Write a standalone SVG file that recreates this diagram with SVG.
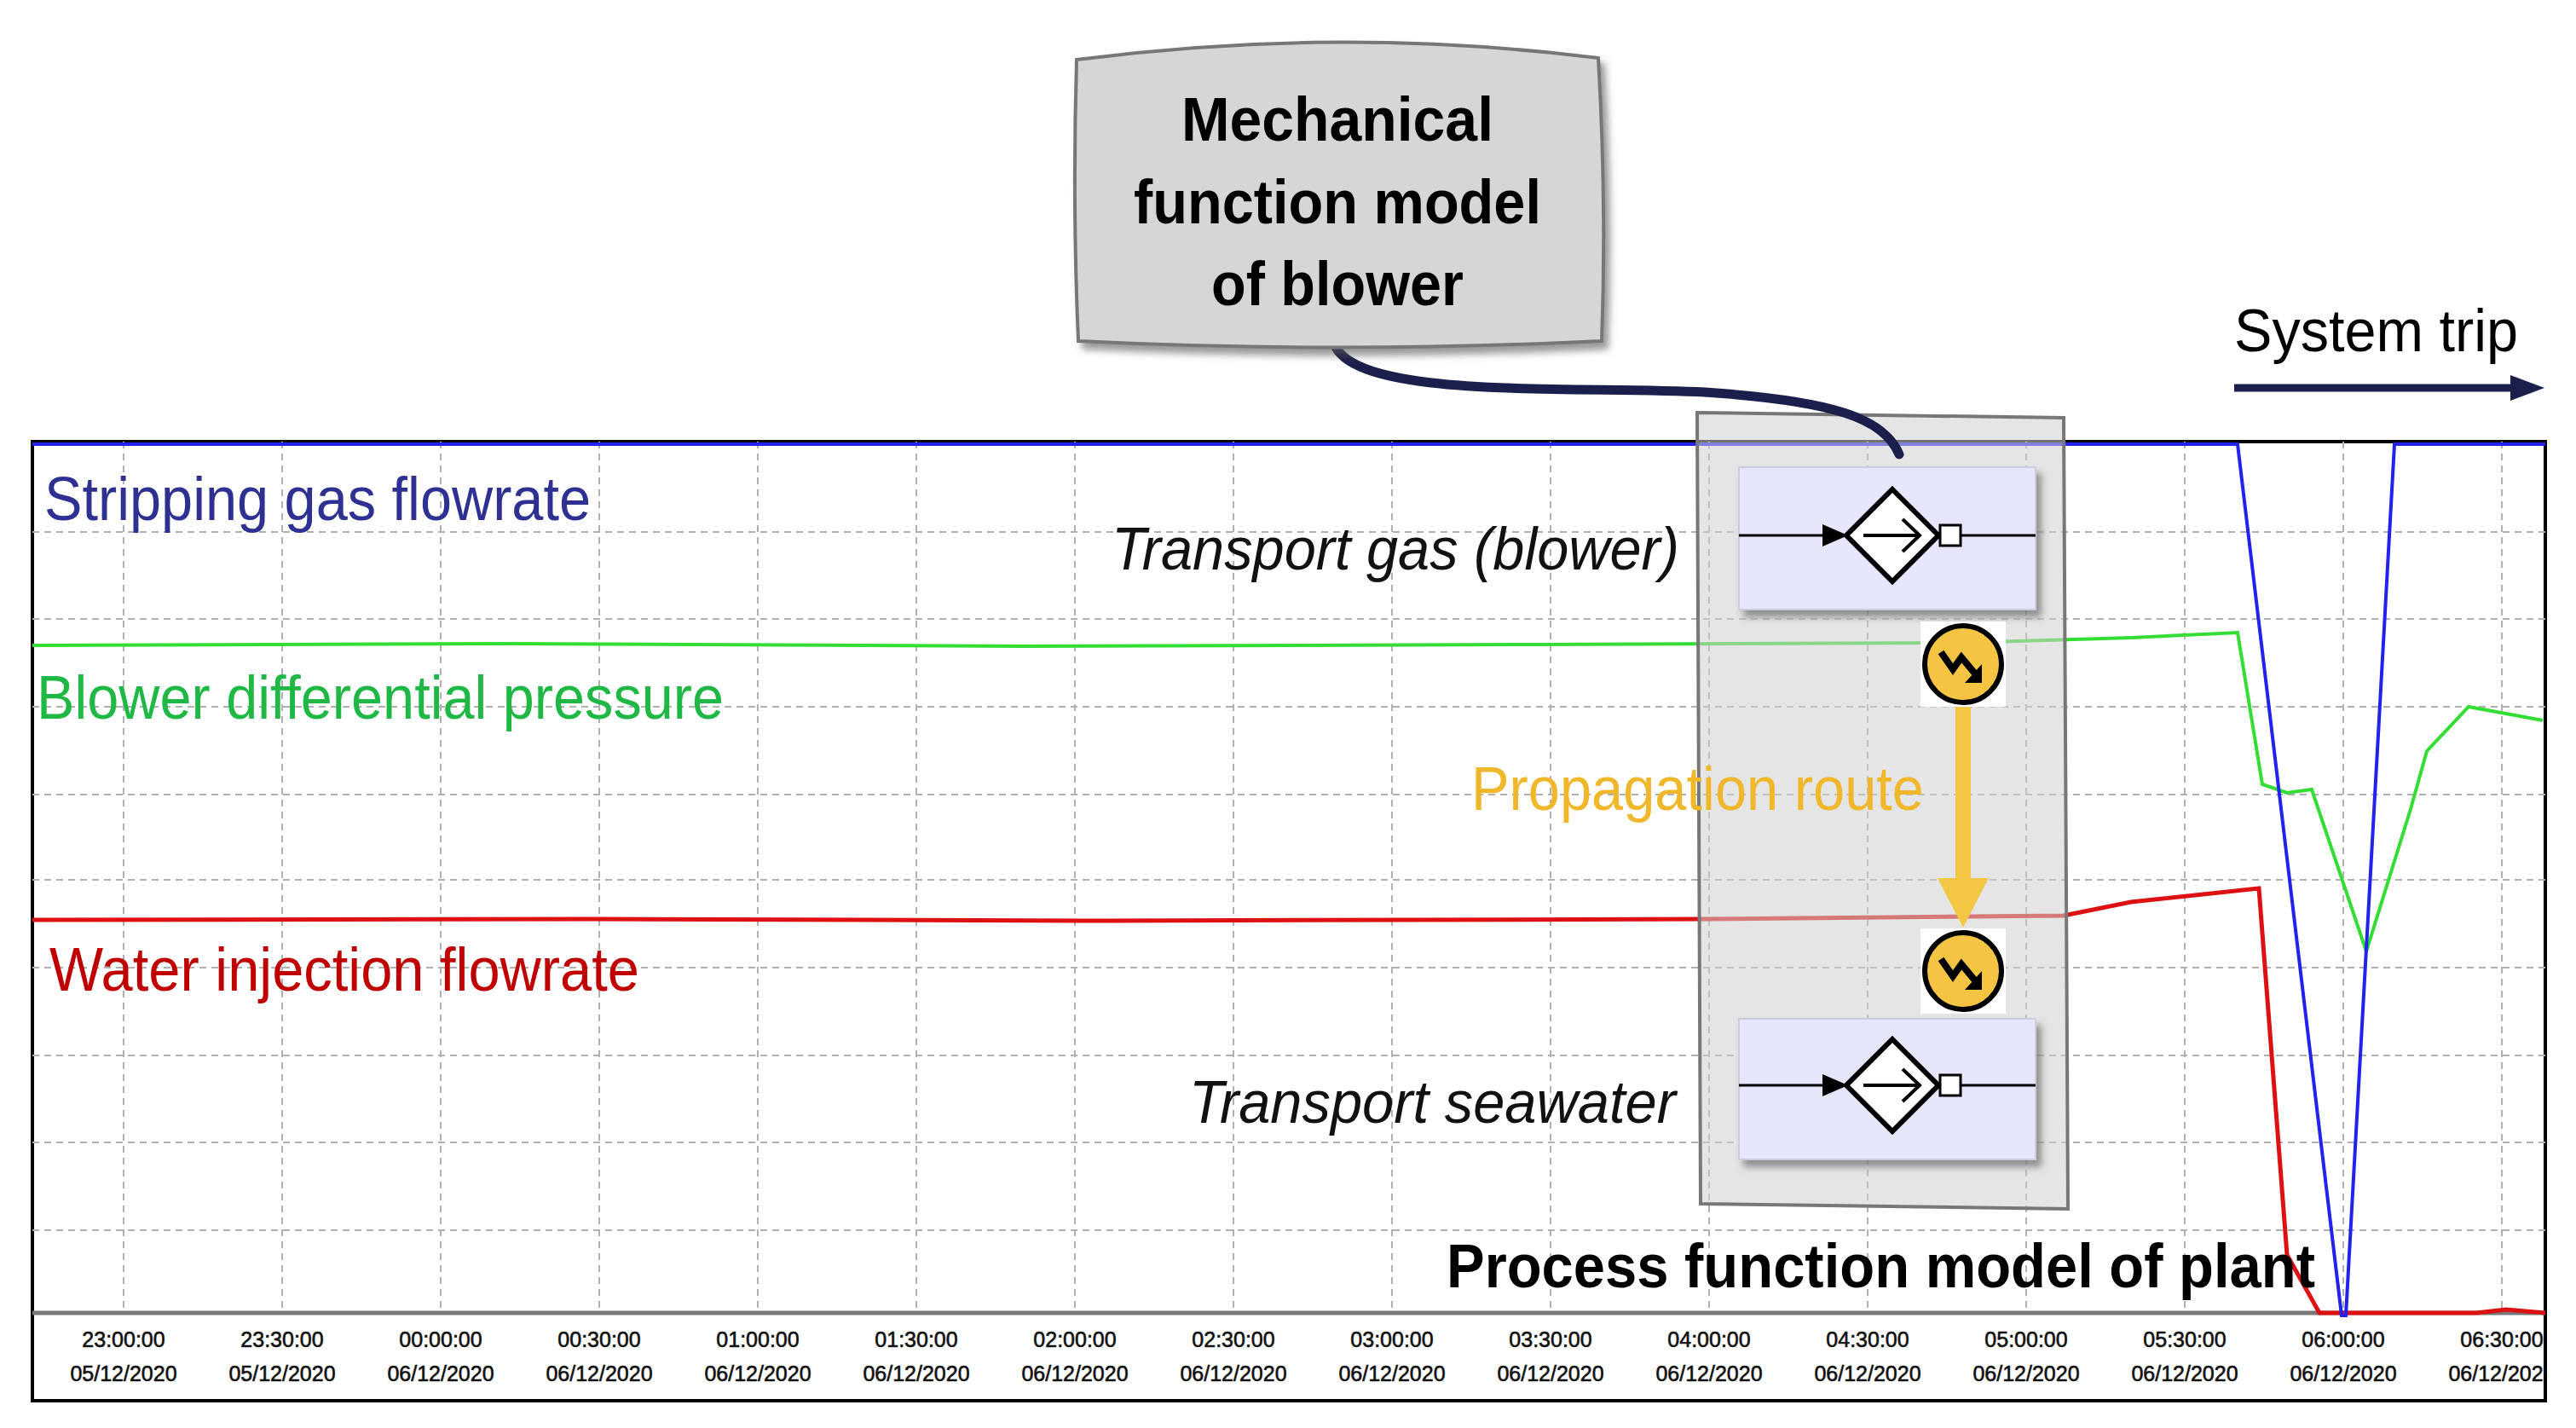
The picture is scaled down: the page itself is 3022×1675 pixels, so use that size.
<svg xmlns="http://www.w3.org/2000/svg" width="3022" height="1675" viewBox="0 0 3022 1675">
<style>
.grid{stroke:#b0b0b0;stroke-width:2;stroke-dasharray:8 6;fill:none}
.tick{font-family:"Liberation Sans",sans-serif;font-size:25px;fill:#111;text-anchor:middle;stroke:#111;stroke-width:0.6}
.lbl{font-family:"Liberation Sans",sans-serif;font-size:72px}
.it{font-family:"Liberation Sans",sans-serif;font-size:70px;font-style:italic;fill:#111}
.fbox{fill:#e6e6fa;stroke:#ccd;stroke-width:2;filter:url(#sh)}
.icon{fill:#f5c443;stroke:#000;stroke-width:6}
</style>
<defs>
<filter id="sh" x="-10%" y="-10%" width="130%" height="130%"><feDropShadow dx="6" dy="8" stdDeviation="4" flood-color="#555" flood-opacity="0.6"/></filter>
<clipPath id="plot"><rect x="38" y="518" width="2948" height="1125"/></clipPath>
<g id="fsym">
<line x1="0" y1="0" x2="348" y2="0" stroke="#000" stroke-width="3"/>
<path d="M98,-13 L128,0 L98,13 z" fill="#000"/>
<path d="M180,-54 L234,0 L180,54 L126,0 z" fill="#fff" stroke="#000" stroke-width="6"/>
<line x1="146" y1="0" x2="212" y2="0" stroke="#000" stroke-width="4"/>
<path d="M192,-19 L212,0 L192,19" fill="none" stroke="#000" stroke-width="4"/>
<rect x="236" y="-12" width="24" height="24" fill="#fff" stroke="#000" stroke-width="3"/>
</g>
<g id="ico">
<rect x="-50" y="-50" width="100" height="100" fill="#fff"/>
<circle r="45" class="icon"/>
<path d="M-26,-14 L-12,6 L-2,-8 L18,16" fill="none" stroke="#000" stroke-width="8"/>
<path d="M22,0 L22,22 L2,22 z" fill="#000"/>
</g>
</defs>
<rect width="3022" height="1675" fill="#fff"/>
<g id="chart">
<rect x="38" y="518" width="2948" height="1125" fill="#fff" stroke="#000" stroke-width="4"/>
<g class="grid">
<path d="M38,624H2986M38,726H2986M38,829H2986M38,932H2986M38,1032H2986M38,1135H2986M38,1238H2986M38,1340H2986M38,1443H2986"/>
<path d="M145,518V1540M331,518V1540M517,518V1540M703,518V1540M889,518V1540M1075,518V1540M1261,518V1540M1447,518V1540M1633,518V1540M1819,518V1540M2005,518V1540M2191,518V1540M2377,518V1540M2563,518V1540M2749,518V1540M2935,518V1540"/>
</g>
<line x1="38" y1="1540" x2="2986" y2="1540" stroke="#777" stroke-width="5"/>
<g clip-path="url(#plot)">
<g class="tick">
<text x="145" y="1580">23:00:00</text><text x="145" y="1620">05/12/2020</text>
<text x="331" y="1580">23:30:00</text><text x="331" y="1620">05/12/2020</text>
<text x="517" y="1580">00:00:00</text><text x="517" y="1620">06/12/2020</text>
<text x="703" y="1580">00:30:00</text><text x="703" y="1620">06/12/2020</text>
<text x="889" y="1580">01:00:00</text><text x="889" y="1620">06/12/2020</text>
<text x="1075" y="1580">01:30:00</text><text x="1075" y="1620">06/12/2020</text>
<text x="1261" y="1580">02:00:00</text><text x="1261" y="1620">06/12/2020</text>
<text x="1447" y="1580">02:30:00</text><text x="1447" y="1620">06/12/2020</text>
<text x="1633" y="1580">03:00:00</text><text x="1633" y="1620">06/12/2020</text>
<text x="1819" y="1580">03:30:00</text><text x="1819" y="1620">06/12/2020</text>
<text x="2005" y="1580">04:00:00</text><text x="2005" y="1620">06/12/2020</text>
<text x="2191" y="1580">04:30:00</text><text x="2191" y="1620">06/12/2020</text>
<text x="2377" y="1580">05:00:00</text><text x="2377" y="1620">06/12/2020</text>
<text x="2563" y="1580">05:30:00</text><text x="2563" y="1620">06/12/2020</text>
<text x="2749" y="1580">06:00:00</text><text x="2749" y="1620">06/12/2020</text>
<text x="2935" y="1580">06:30:00</text><text x="2935" y="1620">06/12/2020</text>
</g>
<path d="M38,757 L600,755 L1200,758 L1800,756 L2300,754 L2500,748 L2625,742 L2654,920 L2683,930 L2712,926 L2776,1116 L2828,949 L2847,881 L2896,829 L2983,845" fill="none" stroke="#33dd33" stroke-width="4"/>
<path d="M38,1079 L700,1078 L1300,1080 L2000,1078 L2421,1074 L2500,1058 L2650,1042 L2683,1472 L2721,1540 L2905,1540 L2940,1536 L2986,1540" fill="none" stroke="#dd1111" stroke-width="5"/>
<path d="M38,521 L2625,521 L2747,1543 L2752,1543 L2809,521 L2986,521" fill="none" stroke="#2222ee" stroke-width="4"/>
</g>
</g>
<g id="labels">
<text class="lbl" x="52" y="610" fill="#2e3192" textLength="641" lengthAdjust="spacingAndGlyphs">Stripping gas flowrate</text>
<text class="lbl" x="43" y="843" fill="#1fb845" textLength="806" lengthAdjust="spacingAndGlyphs">Blower differential pressure</text>
<text class="lbl" x="58" y="1162" fill="#c00000" textLength="692" lengthAdjust="spacingAndGlyphs">Water injection flowrate</text>
</g>
<g id="process-model">
<path d="M1991,484 L2421,490 L2426,1418 L1995,1412 Z" fill="#cfcfcf" fill-opacity="0.55" stroke="#777" stroke-width="4"/>
</g>
<g id="transport-gas">
<rect class="fbox" x="2040" y="548" width="348" height="167"/>
<use href="#fsym" x="2040" y="628"/>
<text class="it" x="1304" y="668" textLength="666" lengthAdjust="spacingAndGlyphs">Transport gas (blower)</text>
</g>
<g id="transport-seawater">
<rect class="fbox" x="2040" y="1195" width="348" height="165"/>
<use href="#fsym" x="2040" y="1273"/>
<text class="it" x="1395" y="1317" textLength="571" lengthAdjust="spacingAndGlyphs">Transport seawater</text>
</g>
<g id="icon-top"><use href="#ico" x="2303" y="779"/></g>
<g id="icon-bottom"><use href="#ico" x="2303" y="1139"/></g>
<g id="connectors">
<line x1="2303" y1="829" x2="2303" y2="1040" stroke="#f2c744" stroke-width="18"/>
<path d="M2273,1030 L2333,1030 L2303,1088 Z" fill="#f2c744"/>
<path d="M1565,403 C1590,470 1850,452 2000,460 C2150,470 2210,490 2228,533" fill="none" stroke="#1b1f4b" stroke-width="11" stroke-linecap="round"/>
<line x1="2621" y1="455" x2="2950" y2="455" stroke="#1b1f4b" stroke-width="9"/>
<path d="M2945,440 L2985,455 L2945,470 Z" fill="#1b1f4b"/>
</g>
<text class="lbl" x="1726" y="950" fill="#f0b72a" textLength="531" lengthAdjust="spacingAndGlyphs">Propagation route</text>
<text x="1697" y="1510" font-family="'Liberation Sans',sans-serif" font-weight="bold" font-size="72" fill="#000" textLength="1019" lengthAdjust="spacingAndGlyphs">Process function model of plant</text>
<text x="2621" y="412" font-family="'Liberation Sans',sans-serif" font-size="70" fill="#000" textLength="333" lengthAdjust="spacingAndGlyphs">System trip</text>
<g id="mechanical-model">
<path d="M1263,70 Q1570,30 1875,68 Q1885,240 1879,400 Q1570,415 1265,400 Q1258,240 1263,70 Z" fill="#d6d6d6" stroke="#777" stroke-width="4" filter="url(#sh)"/>
<g font-family="'Liberation Sans',sans-serif" font-weight="bold" font-size="72" fill="#000" text-anchor="middle">
<text x="1569" y="165" textLength="366" lengthAdjust="spacingAndGlyphs">Mechanical</text>
<text x="1569" y="262" textLength="478" lengthAdjust="spacingAndGlyphs">function model</text>
<text x="1569" y="358" textLength="296" lengthAdjust="spacingAndGlyphs">of blower</text>
</g>
</g>
</svg>
